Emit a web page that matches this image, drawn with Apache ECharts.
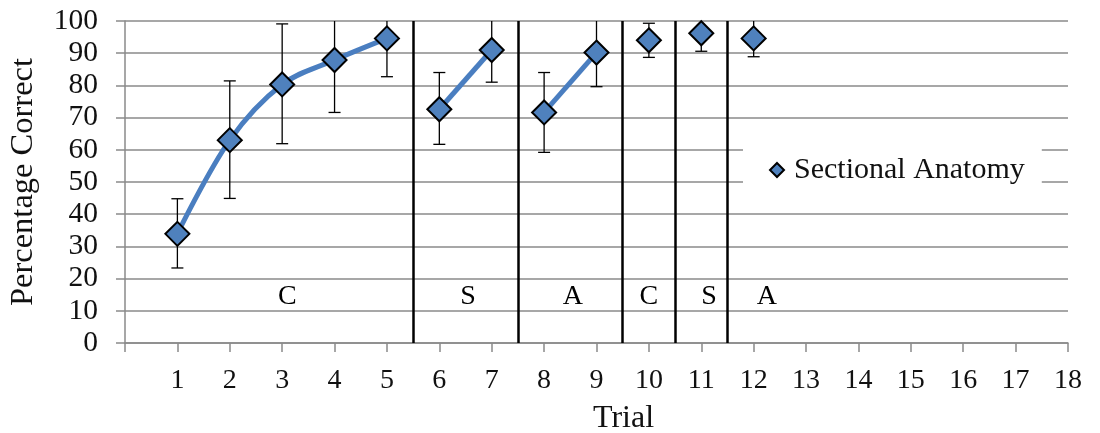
<!DOCTYPE html>
<html>
<head>
<meta charset="utf-8">
<title>Sectional Anatomy</title>
<script src="https://cdn.jsdelivr.net/npm/echarts@6/dist/echarts.min.js"></script>
<style>
  html, body { margin: 0; padding: 0; background: #fff; }
  #chart { width: 1100px; height: 433px; }
</style>
</head>
<body>
<div id="chart"></div>
<script>
// Trial numbers, mean percentage correct and error-bar ends
const trials   = [1, 2, 3, 4, 5, 6, 7, 8, 9, 10, 11, 12];
const means    = [33.9, 63.0, 80.3, 87.9, 94.6, 72.6, 91.0, 71.6, 90.2, 94.0, 96.2, 94.6];
const errLow   = [23.3, 44.9, 61.9, 71.6, 82.7, 61.7, 81.0, 59.2, 79.6, 88.7, 90.6, 88.9];
const errHigh  = [44.8, 81.4, 99.1, 104.2, 106.5, 84.0, 101.0, 84.0, 100.8, 99.3, 101.8, 100.3];
// Which block each trial belongs to (lines connect trials within a block)
const blockOf  = [0, 0, 0, 0, 0, 1, 1, 2, 2, 3, 4, 5];
// Block labels and the trial position each is centred on
const phaseNames   = ['C', 'S', 'A', 'C', 'S', 'A'];
const phaseCenters = [3.1, 6.55, 8.55, 10.0, 11.15, 12.25];
// Boundaries between blocks
const boundaries = [5.5, 7.5, 9.5, 10.5, 11.5];
// Axis ticks
const xTickMax = 18;
const yTicks = [0, 10, 20, 30, 40, 50, 60, 70, 80, 90, 100];

const seriesName = 'Sectional Anatomy';
const blue = '#4F81BD';
const lineBlue = '#4A7EC0';
const gridGray = '#8a8a8a';
const serif = '"Liberation Serif", "Times New Roman", serif';

// One line series per block
const blockIds = [...new Set(blockOf)];
const lineSeries = blockIds.map(b => ({
  type: 'line',
  name: 'block' + b,
  data: trials.map((t, i) => [t, means[i]]).filter((_, i) => blockOf[i] === b),
  symbol: 'none',
  smooth: b === 0 ? 0.35 : false,
  lineStyle: { color: lineBlue, width: 5 },
  z: 3,
  silent: true
}));

const errData = trials.map((t, i) => [t, errLow[i], errHigh[i]]);

const chart = echarts.init(document.getElementById('chart'), null, { renderer: 'canvas' });
chart.setOption({
  animation: false,
  backgroundColor: '#fff',
  grid: { left: 125, right: 32, top: 21, bottom: 90, containLabel: false, outerBoundsMode: 'none' },
  legend: {
    data: [{ name: seriesName, icon: 'diamond' }],
    left: 743,
    top: 131,
    padding: [22, 17, 22, 26],
    backgroundColor: '#fff',
    itemWidth: 14,
    itemHeight: 14,
    textStyle: { fontFamily: serif, fontSize: 30, color: '#111', padding: [0, 0, 0, 5], lineHeight: 34 }
  },
  xAxis: {
    type: 'value',
    min: 0,
    max: xTickMax,
    interval: 1,
    name: 'Trial',
    nameLocation: 'middle',
    nameGap: 60,
    nameTextStyle: { fontFamily: serif, fontSize: 32, color: '#111', padding: [0, 0, 0, 54] },
    axisLine: { show: true, lineStyle: { color: gridGray, width: 1.5 } },
    axisTick: { show: true, length: 9, lineStyle: { color: gridGray, width: 1.5 } },
    axisLabel: {
      fontFamily: serif, fontSize: 28, color: '#111', margin: 24,
      formatter: v => (v === 0 ? '' : String(v))
    },
    splitLine: { show: false }
  },
  yAxis: {
    type: 'value',
    min: yTicks[0],
    max: yTicks[yTicks.length - 1],
    interval: 10,
    name: 'Percentage Correct',
    nameLocation: 'middle',
    nameGap: 85,
    nameTextStyle: { fontFamily: serif, fontSize: 32.5, color: '#111' },
    axisLine: { show: true, lineStyle: { color: gridGray, width: 1.5 } },
    axisTick: { show: true, length: 9, lineStyle: { color: gridGray, width: 1.5 } },
    axisLabel: { fontFamily: serif, fontSize: 29.5, color: '#111', margin: 27 },
    splitLine: { show: true, lineStyle: { color: gridGray, width: 1.5 } }
  },
  series: [
    // Block separators
    {
      type: 'line',
      name: 'separators',
      data: [],
      silent: true,
      z: 2,
      markLine: {
        silent: true,
        symbol: ['none', 'none'],
        label: { show: false },
        lineStyle: { color: '#000', width: 2.5, type: 'solid' },
        data: boundaries.map(b => ({ xAxis: b }))
      }
    },
    // Error bars, clipped to the plotting area
    {
      type: 'custom',
      name: 'errors',
      data: errData,
      z: 2,
      silent: true,
      renderItem: function (params, api) {
        const x = api.value(0);
        const lo = api.coord([x, api.value(1)]);
        const hi = api.coord([x, api.value(2)]);
        const top = params.coordSys.y;
        const bottom = params.coordSys.y + params.coordSys.height;
        const cap = 6;
        const y1 = Math.min(lo[1], bottom);
        const hiClipped = hi[1] < top;
        const y2 = hiClipped ? top : hi[1];
        const style = { stroke: '#000', lineWidth: 1.3 };
        const children = [
          { type: 'line', shape: { x1: lo[0], y1: y1, x2: lo[0], y2: y2 }, style: style },
          { type: 'line', shape: { x1: lo[0] - cap, y1: y1, x2: lo[0] + cap, y2: y1 }, style: style }
        ];
        if (!hiClipped) {
          children.push({ type: 'line', shape: { x1: hi[0] - cap, y1: y2, x2: hi[0] + cap, y2: y2 }, style: style });
        }
        return { type: 'group', children: children };
      }
    },
    ...lineSeries,
    // Markers
    {
      type: 'scatter',
      name: seriesName,
      data: trials.map((t, i) => [t, means[i]]),
      symbol: 'diamond',
      symbolSize: 24,
      itemStyle: { color: blue, borderColor: '#000', borderWidth: 2, opacity: 1 },
      z: 5
    },
    // Block labels
    {
      type: 'scatter',
      name: 'phases',
      data: phaseCenters.map((c, i) => [c, 14.5, phaseNames[i]]),
      symbolSize: 0,
      silent: true,
      z: 4,
      label: {
        show: true,
        position: 'inside',
        formatter: p => p.value[2],
        fontFamily: serif,
        fontSize: 28,
        color: '#000',
        textBorderWidth: 0,
        opacity: 1
      }
    }
  ]
});
</script>
</body>
</html>
